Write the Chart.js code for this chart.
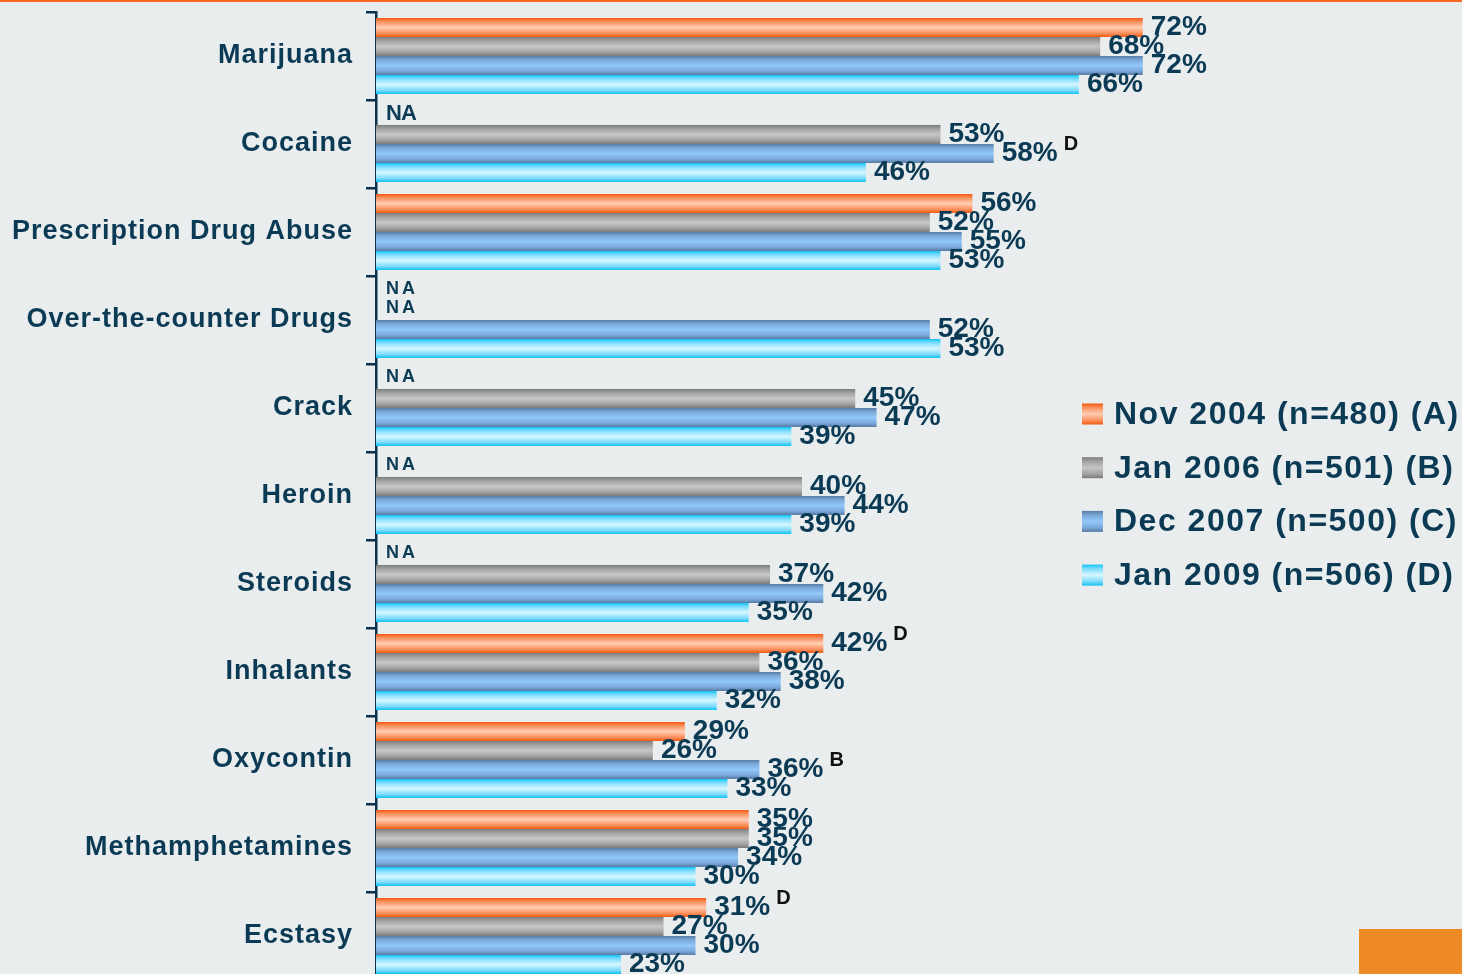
<!DOCTYPE html>
<html>
<head>
<meta charset="utf-8">
<script src="https://cdn.jsdelivr.net/npm/chart.js@4.4.1/dist/chart.umd.min.js"></script>
<style>
  html, body { margin: 0; padding: 0; background: #e9edee; overflow: hidden; width: 1462px; height: 974px; }
  #wrap { width: 1462px; height: 982px; }
</style>
</head>
<body>
<div id="wrap"><canvas id="chart" width="1462" height="982"></canvas></div>
<script>
// Categories (top to bottom) and survey waves
const categories = ['Marijuana', 'Cocaine', 'Prescription Drug Abuse', 'Over-the-counter Drugs', 'Crack', 'Heroin', 'Steroids', 'Inhalants', 'Oxycontin', 'Methamphetamines', 'Ecstasy'];
const seriesNames = ['Nov 2004 (n=480) (A)', 'Jan 2006 (n=501) (B)', 'Dec 2007 (n=500) (C)', 'Jan 2009 (n=506) (D)'];

// Percentages per wave (null = not asked, shown as "NA")
const nov2004 = [72, null, 56, null, null, null, null, 42, 29, 35, 31];
const jan2006 = [68, 53, 52, null, 45, 40, 37, 36, 26, 35, 27];
const dec2007 = [72, 58, 55, 52, 47, 44, 42, 38, 36, 34, 30];
const jan2009 = [66, 46, 53, 53, 39, 39, 35, 32, 33, 30, 23];

// Significance letters shown beside a value
const sigNov2004 = ['', '', '', '', '', '', '', 'D', '', '', 'D'];
const sigJan2006 = ['', '', '', '', '', '', '', '', '', '', ''];
const sigDec2007 = ['', 'D', '', '', '', '', '', '', 'B', '', ''];
const sigJan2009 = ['', '', '', '', '', '', '', '', '', '', ''];

const seriesValues = [nov2004, jan2006, dec2007, jan2009];
const seriesSig = [sigNov2004, sigJan2006, sigDec2007, sigJan2009];

const NAVY = '#0b3a55';
const AXIS = '#0b3350';
const FONT = '"Liberation Sans", Arial, sans-serif';
const CAT_PCT = 76 / 88;

// Cylinder-like shading for each series: edge -> centre -> edge
const shades = [
  [[0, '#f45a10'], [0.18, '#fa8c58'], [0.5, '#ffcdb4'], [0.82, '#fa8c58'], [1, '#f05810']],
  [[0, '#7c7c7c'], [0.2, '#a2a2a2'], [0.5, '#c6c6c6'], [0.8, '#a2a2a2'], [1, '#7a7a7a']],
  [[0, '#5a7ca4'], [0.2, '#79a8d8'], [0.5, '#93c8fa'], [0.8, '#79a8d8'], [1, '#587aa2']],
  [[0, '#12c4f3'], [0.2, '#7edcfa'], [0.5, '#d6f6ff'], [0.8, '#7edcfa'], [1, '#10c2f2']]
];
const flat = ['#f9a070', '#a8a8a8', '#80b0e0', '#8adff8'];

function makeGradient(ctx, top, bottom, stops) {
  const g = ctx.createLinearGradient(0, top, 0, bottom);
  stops.forEach(([o, c]) => g.addColorStop(o, c));
  return g;
}

// Vertical extent of the bar slot for a given series inside a category
function slotBounds(chart, dsIndex, catIndex) {
  const y = chart.scales.y;
  const center = y.getPixelForValue(catIndex);
  const cat = (y.bottom - y.top) / categories.length;
  const group = cat * CAT_PCT;
  const bar = group / seriesValues.length;
  const top = center - group / 2 + dsIndex * bar;
  return { top, bottom: top + bar, mid: top + bar / 2 };
}

const backgroundPlugin = {
  id: 'pageBackground',
  beforeDraw(chart) {
    const ctx = chart.ctx;
    ctx.save();
    ctx.fillStyle = '#e9edee';
    ctx.fillRect(0, 0, chart.width, chart.height);
    ctx.fillStyle = '#f7671d';
    ctx.fillRect(0, 0, chart.width, 2);
    ctx.restore();
    // spacing used by the category tick labels
    ctx.letterSpacing = '1px';
  },
  afterDraw(chart) {
    const ctx = chart.ctx;
    ctx.save();
    ctx.fillStyle = '#ee8a25';
    ctx.fillRect(1359, 929, chart.width - 1359, chart.height - 929);
    ctx.restore();
  }
};

const labelPlugin = {
  id: 'valueLabels',
  afterDatasetsDraw(chart) {
    const ctx = chart.ctx;
    ctx.save();
    ctx.textBaseline = 'middle';
    ctx.textAlign = 'left';
    seriesValues.forEach((vals, di) => {
      const meta = chart.getDatasetMeta(di);
      vals.forEach((v, ci) => {
        if (v === null) {
          const s = slotBounds(chart, di, ci);
          ctx.fillStyle = NAVY;
          if (ci === 1) {
            ctx.font = 'bold 22px ' + FONT;
            ctx.letterSpacing = '-1px';
          } else {
            ctx.font = 'bold 18px ' + FONT;
            ctx.letterSpacing = '3px';
          }
          ctx.fillText('NA', chart.chartArea.left + 10, s.mid - 2);
          return;
        }
        const el = meta.data[ci];
        const text = v + '%';
        ctx.letterSpacing = '0px';
        ctx.font = 'bold 28px ' + FONT;
        ctx.fillStyle = NAVY;
        const x = el.x + 8;
        const y = el.y;
        ctx.fillText(text, x, y);
        const sig = seriesSig[di][ci];
        if (sig) {
          const w = ctx.measureText(text).width;
          ctx.font = 'bold 20px ' + FONT;
          ctx.fillStyle = '#111111';
          ctx.fillText(sig, x + w + 6, y - 9);
        }
      });
    });
    ctx.restore();
  }
};

const legendPlugin = {
  id: 'sideLegend',
  afterDraw(chart) {
    const ctx = chart.ctx;
    ctx.save();
    const x0 = 1082, size = 21, first = 414, step = 53.7;
    seriesNames.forEach((name, i) => {
      const cy = first + i * step;
      ctx.fillStyle = makeGradient(ctx, cy - size / 2, cy + size / 2, shades[i]);
      ctx.fillRect(x0, cy - size / 2, size, size);
      ctx.fillStyle = NAVY;
      ctx.font = 'bold 32px ' + FONT;
      ctx.letterSpacing = '1.5px';
      ctx.textBaseline = 'middle';
      ctx.textAlign = 'left';
      ctx.fillText(name, 1114, cy + 1);
    });
    ctx.restore();
  }
};

const datasets = seriesValues.map((vals, di) => ({
  label: seriesNames[di],
  data: vals,
  borderWidth: 0,
  categoryPercentage: CAT_PCT,
  barPercentage: 1,
  backgroundColor(c) {
    const chart = c.chart;
    if (c.type !== 'data' || !chart.chartArea || !chart.scales.y) return flat[di];
    const s = slotBounds(chart, di, c.dataIndex);
    return makeGradient(chart.ctx, s.top, s.bottom, shades[di]);
  }
}));

new Chart(document.getElementById('chart'), {
  type: 'bar',
  data: { labels: categories, datasets },
  options: {
    indexAxis: 'y',
    responsive: false,
    animation: false,
    devicePixelRatio: 1,
    layout: { padding: { top: 12, right: 21, bottom: 2, left: 0 } },
    plugins: { legend: { display: false }, tooltip: { enabled: false } },
    events: [],
    scales: {
      x: { display: false, min: 0, max: 100 },
      y: {
        z: 1,
        afterFit(scale) {
          scale.width = 376;
          scale.paddingTop = 0;
          scale.paddingBottom = 0;
        },
        grid: { display: true, drawOnChartArea: false, offset: true, tickLength: 10, color: AXIS, lineWidth: 2.5 },
        border: { display: true, color: AXIS, width: 2.5 },
        ticks: {
          autoSkip: false,
          padding: 13,
          color: NAVY,
          font: { family: FONT, size: 27, weight: 'bold' }
        }
      }
    }
  },
  plugins: [backgroundPlugin, labelPlugin, legendPlugin]
});
</script>
</body>
</html>
